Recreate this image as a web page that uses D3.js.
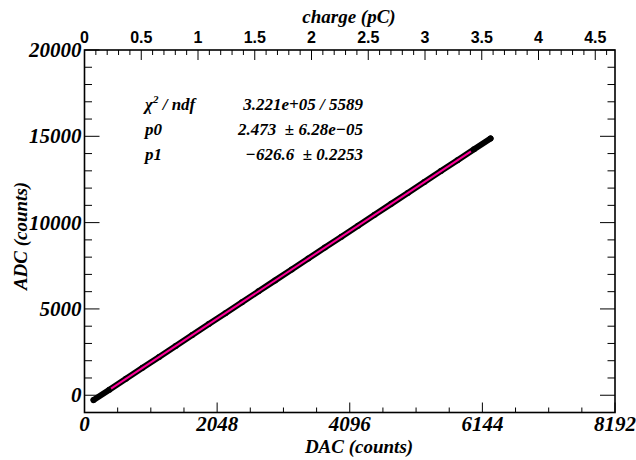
<!DOCTYPE html>
<html>
<head>
<meta charset="utf-8">
<script src="https://cdn.jsdelivr.net/npm/d3@7"></script>
<style>
  html, body { margin: 0; padding: 0; background: #fff; }
  svg { display: block; }
  .serif { font-family: "Liberation Serif", "Times New Roman", serif; font-weight: bold; font-style: italic; }
  .sans { font-family: "Liberation Sans", Arial, sans-serif; font-weight: bold; }
</style>
</head>
<body>
<svg id="chart" width="636" height="460"></svg>
<script>
// ---- data ----
const dacValues = [140, 384, 640, 896, 1152, 1408, 1664, 1920, 2176, 2432, 2688, 2944, 3200,
                   3456, 3712, 3968, 4224, 4480, 4736, 4992, 5248, 5504, 5760, 6016, 6270];
const adcValues = [-280, 323, 956, 1589, 2222, 2855, 3489, 4122, 4755, 5388, 6021, 6654, 7287,
                   7920, 8553, 9186, 9819, 10452, 11086, 11719, 12352, 12985, 13618, 14251, 14880];
const fitDac = [410, 5968];
const fitAdc = [387, 14132];
const xTickValues = [0, 2048, 4096, 6144, 8192];
const yTickValues = [0, 5000, 10000, 15000, 20000];
const chargeTickValues = [0, 0.5, 1, 1.5, 2, 2.5, 3, 3.5, 4, 4.5];
const chargeTickLabels = ["0", "0.5", "1", "1.5", "2", "2.5", "3", "3.5", "4", "4.5"];
const statLabels = ["χ", "p0", "p1"];
const statValues = ["3.221e+05 / 5589", "2.473  ± 6.28e−05", "−626.6  ± 0.2253"];

// ---- layout ----
const L = 84.5, R = 615, T = 50, B = 412.5;
const svg = d3.select("#chart");

const x = d3.scaleLinear().domain([0, 8192]).range([L, R]);
const y = d3.scaleLinear().domain([-1000, 20000]).range([B, T]);
const xc = d3.scaleLinear().domain([0, 4.674]).range([L, R]);

// minor ticks
const xMinor = d3.range(0, 8192 + 1, 512);
const yMinor = d3.range(-1000, 20000 + 1, 1000);
const cMinor = d3.range(0, 47).map(i => i / 10).filter(v => v <= 4.674);

const g = svg.append("g");

// bottom axis ticks (pointing up)
g.selectAll(".xt").data(xMinor).enter().append("line")
  .attr("x1", d => x(d)).attr("x2", d => x(d))
  .attr("y1", B).attr("y2", d => B - (d % 2048 === 0 ? 10 : 5))
  .attr("stroke", "#000").attr("stroke-width", 1);

// left & right ticks
g.selectAll(".ylt").data(yMinor).enter().append("line")
  .attr("x1", L).attr("x2", d => L + (d % 5000 === 0 ? 15 : 7.5))
  .attr("y1", d => y(d)).attr("y2", d => y(d))
  .attr("stroke", "#000").attr("stroke-width", 1);
g.selectAll(".yrt").data(yMinor).enter().append("line")
  .attr("x1", R).attr("x2", d => R - (d % 5000 === 0 ? 15 : 7.5))
  .attr("y1", d => y(d)).attr("y2", d => y(d))
  .attr("stroke", "#000").attr("stroke-width", 1);

// top axis ticks (pointing down)
g.selectAll(".ct").data(cMinor).enter().append("line")
  .attr("x1", d => xc(d)).attr("x2", d => xc(d))
  .attr("y1", T).attr("y2", (d, i) => T + (i % 5 === 0 ? 10 : 5))
  .attr("stroke", "#000").attr("stroke-width", 1);

// frame
g.append("rect").attr("x", L).attr("y", T).attr("width", R - L).attr("height", B - T)
  .attr("fill", "none").attr("stroke", "#000").attr("stroke-width", 1.6);

// tick labels
g.selectAll(".xl").data(xTickValues).enter().append("text")
  .attr("class", "serif").attr("font-size", 21)
  .attr("x", d => x(d)).attr("y", 431).attr("text-anchor", "middle")
  .text(d => d);
g.selectAll(".yl").data(yTickValues).enter().append("text")
  .attr("class", "serif").attr("font-size", 21)
  .attr("x", 81.5).attr("y", d => y(d) + 7).attr("text-anchor", "end")
  .text(d => d);
g.selectAll(".cl").data(chargeTickValues).enter().append("text")
  .attr("class", "sans").attr("font-size", 16)
  .attr("x", d => xc(d)).attr("y", 43).attr("text-anchor", "middle")
  .text((d, i) => chargeTickLabels[i]);

// axis titles
g.append("text").attr("class", "serif").attr("font-size", 19)
  .attr("x", 359).attr("y", 453).attr("text-anchor", "middle").text("DAC (counts)");
g.append("text").attr("class", "serif").attr("font-size", 19)
  .attr("transform", "translate(27,236) rotate(-90)").attr("text-anchor", "middle").text("ADC (counts)");
g.append("text").attr("class", "serif").attr("font-size", 19)
  .attr("x", 349).attr("y", 23).attr("text-anchor", "middle").text("charge (pC)");

// data markers (dense points -> thick black trace)
const pts = dacValues.map((d, i) => [d, adcValues[i]]);
const line = d3.line().x(d => x(d[0])).y(d => y(d[1]));
g.append("path").attr("d", line(pts)).attr("fill", "none")
  .attr("stroke", "#000").attr("stroke-width", 6)
  .attr("stroke-linecap", "round").attr("stroke-linejoin", "round");
g.selectAll(".pt").data(pts).enter().append("circle")
  .attr("cx", d => x(d[0])).attr("cy", d => y(d[1])).attr("r", 3).attr("fill", "#000");

// fit line
const fitPts = fitDac.map((d, i) => [d, fitAdc[i]]);
g.append("path").attr("d", line(fitPts)).attr("fill", "none")
  .attr("stroke", "#ff0098").attr("stroke-width", 2);

// stats text
const rowsY = [110, 135, 160];
statLabels.forEach((lab, i) => {
  const t = g.append("text").attr("class", "serif").attr("font-size", 17)
    .attr("x", 145).attr("y", rowsY[i]);
  if (i === 0) {
    t.append("tspan").text(lab);
    t.append("tspan").attr("font-size", 11).attr("dy", -7).text("2");
    t.append("tspan").attr("dy", 7).text(" / ndf");
  } else {
    t.text(lab);
  }
  g.append("text").attr("class", "serif").attr("font-size", 17)
    .attr("x", 363).attr("y", rowsY[i]).attr("text-anchor", "end")
    .attr("xml:space", "preserve").style("white-space", "pre")
    .text(statValues[i]);
});
</script>
</body>
</html>
